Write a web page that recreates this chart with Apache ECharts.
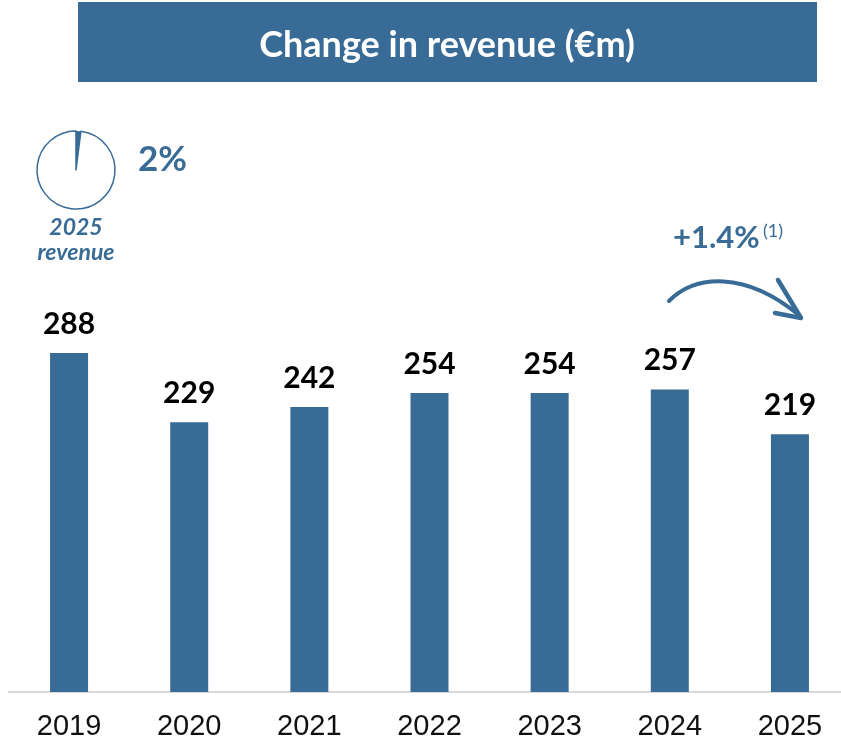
<!DOCTYPE html>
<html>
<head>
<meta charset="utf-8">
<script src="https://cdn.jsdelivr.net/npm/echarts@6/dist/echarts.min.js"></script>
<style>
  html, body { margin: 0; padding: 0; background: #fff; }
  #chart { width: 841px; height: 741px; }
</style>
</head>
<body>
<div id="chart"></div>
<script>
const years = ["2019", "2020", "2021", "2022", "2023", "2024", "2025"];
const revenue = [288, 229, 242, 254, 254, 257, 219];
const shareOf2025 = 2; // % share shown in the small pie
const growthLabel = "+1.4%";

const blue = "#386b95";
const chart = echarts.init(document.getElementById("chart"));

const option = {
  animation: false,
  grid: { left: 9, top: 221, width: 841, height: 471, outerBoundsMode: "none", containLabel: false },
  xAxis: {
    type: "category",
    data: years,
    axisLine: { lineStyle: { color: "#d9d9d9", width: 2 } },
    axisTick: { show: false },
    axisLabel: {
      color: "#111",
      fontFamily: "Liberation Sans",
      fontSize: 29,
      margin: 20,
    },
  },
  yAxis: {
    type: "value",
    min: 0,
    max: 400,
    show: false,
    splitLine: { show: false },
  },
  graphic: [
    {
      type: "rect",
      shape: { x: 78, y: 2, width: 739, height: 80 },
      style: { fill: blue },
    },
    {
      type: "text",
      x: 447,
      y: 45,
      style: {
        text: "Change in revenue (€m)",
        fill: "#fff",
        font: "bold 36px Lato",
        align: "center",
        verticalAlign: "middle",
      },
    },
    {
      type: "text",
      x: 138,
      y: 160,
      style: {
        text: shareOf2025 + "%",
        fill: blue,
        font: "bold 35px Lato",
        verticalAlign: "middle",
      },
    },
    {
      type: "text",
      x: 76,
      y: 228,
      style: {
        text: "2025",
        fill: blue,
        font: "italic bold 23px Lato",
        align: "center",
        verticalAlign: "middle",
      },
    },
    {
      type: "text",
      x: 76,
      y: 253,
      style: {
        text: "revenue",
        fill: blue,
        font: "italic bold 23px Lato",
        align: "center",
        verticalAlign: "middle",
      },
    },
    {
      type: "text",
      x: 673,
      y: 238,
      style: {
        text: growthLabel,
        fill: blue,
        font: "bold 31px Lato",
        verticalAlign: "middle",
      },
    },
    {
      type: "text",
      x: 763,
      y: 231,
      style: {
        text: "(1)",
        fill: blue,
        font: "18px Lato",
        verticalAlign: "middle",
      },
    },
    {
      type: "bezierCurve",
      shape: { x1: 669, y1: 301, cpx1: 695, cpy1: 275, cpx2: 745, cpy2: 270, x2: 800, y2: 316 },
      style: { stroke: blue, lineWidth: 4, fill: null, lineCap: "round" },
    },
    {
      type: "polyline",
      shape: { points: [[778, 280], [801, 318], [775, 313]] },
      style: { stroke: blue, lineWidth: 4.5, fill: null, lineCap: "round", lineJoin: "round" },
    },
  ],
  series: [
    {
      type: "bar",
      data: revenue,
      barWidth: 38,
      itemStyle: { color: blue },
      label: {
        show: true,
        position: "top",
        distance: 14,
        color: "#000",
        fontFamily: "Lato",
        fontWeight: "bold",
        fontSize: 30,
      },
    },
    {
      type: "pie",
      center: [76, 170],
      radius: 39,
      startAngle: 90,
      clockwise: true,
      silent: true,
      label: { show: false },
      labelLine: { show: false },
      data: [
        { value: shareOf2025, itemStyle: { color: blue } },
        { value: 100 - shareOf2025, itemStyle: { color: "#fff", borderColor: blue, borderWidth: 1.5 } },
      ],
    },
  ],
};

chart.setOption(option);
</script>
</body>
</html>
